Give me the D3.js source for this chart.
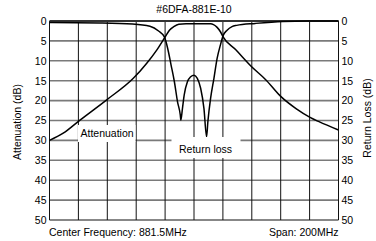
<!DOCTYPE html>
<html><head><meta charset="utf-8">
<script src="https://cdn.jsdelivr.net/npm/d3@7"></script>
<style>
html,body{margin:0;padding:0;background:#fff;}
svg{display:block;font-family:"Liberation Sans",Arial,Helvetica,sans-serif;}
</style></head><body>
<svg id="c" width="376" height="241"></svg>
<script>
const title = "#6DFA-881E-10";
const yTicks = [0,5,10,15,20,25,30,35,40,45,50];
const xDivs = [781.5,801.5,821.5,841.5,861.5,881.5,901.5,921.5,941.5,961.5,981.5];
const leftLabel = "Attenuation (dB)";
const rightLabel = "Return Loss (dB)";
const footLeft = "Center Frequency: 881.5MHz";
const footRight = "Span: 200MHz";

const attFreq = [781.5,791.0,802.6,821.1,839.5,848.8,855.7,861.5,864.5,867.5,871,876,886,893,895,897.5,899.8,901.5,910.6,921.4,931.3,941.7,952.1,961.8,968,981.5];
const attDb   = [30.0,28.2,24.9,19.8,14.4,10.6,7.3,4.0,2.3,1.4,0.8,0.7,0.7,0.7,0.9,1.6,2.7,3.9,7.3,11.5,14.8,19.0,22.0,24.2,25.3,27.4];

const rlFreq = [781.5,800,816,839,851,857,861,863.3,865.6,867.9,870.1,872,872.4,873.5,874.7,877,879.2,881.5,883.8,886.1,888.4,890.2,891.1,893,895.3,897.5,899.8,901.6,904.4,907.8,911,924,943,960,981.5];
const rlDb   = [0.4,0.45,0.5,0.75,1.3,2.5,4.0,6.9,11.0,15.2,20.3,23.6,24.9,22.0,18.6,15.2,14.0,13.6,14.4,16.9,22.0,29.1,25.3,19.4,14.4,9.4,6.0,3.7,2.3,1.4,1.1,0.6,0.1,0.0,0.0];

const svg = d3.select("#c");
const X0 = 49.5, X1 = 338.5, Y0 = 21, Y1 = 220;
const x = d3.scaleLinear().domain([781.5,981.5]).range([X0,X1]);
const y = d3.scaleLinear().domain([0,50]).range([Y0,Y1]);
const FS = 10.5;

// horizontal grid
svg.append("g").selectAll("line").data(yTicks.filter(d=>d>0&&d<50)).join("line")
  .attr("x1",X0).attr("x2",X1).attr("y1",d=>y(d)).attr("y2",d=>y(d))
  .attr("stroke","#7a7a7a").attr("stroke-width",1.6);
// vertical grid
svg.append("g").selectAll("line").data(xDivs).join("line")
  .attr("x1",d=>x(d)).attr("x2",d=>x(d)).attr("y1",Y0).attr("y2",Y1)
  .attr("stroke","#111").attr("stroke-width",1);
// frame
svg.append("line").attr("x1",X0).attr("x2",X1).attr("y1",Y0).attr("y2",Y0).attr("stroke","#333").attr("stroke-width",2);
svg.append("line").attr("x1",X0).attr("x2",X1).attr("y1",Y1).attr("y2",Y1).attr("stroke","#111").attr("stroke-width",1.2);

// axes labels via d3 axes (no lines)
const yl = svg.append("g").attr("transform",`translate(${X0-3},0)`)
  .call(d3.axisLeft(y).tickValues(yTicks).tickSize(0).tickPadding(0));
yl.select(".domain").remove();
yl.selectAll("text").attr("font-size",FS).attr("font-family","Liberation Sans, Arial").attr("fill","#000");
const yr = svg.append("g").attr("transform",`translate(${X1+3},0)`)
  .call(d3.axisRight(y).tickValues(yTicks).tickSize(0).tickPadding(0));
yr.select(".domain").remove();
yr.selectAll("text").attr("font-size",FS).attr("font-family","Liberation Sans, Arial").attr("fill","#000");

// curves
const line = d3.line().x(d=>x(d[0])).y(d=>y(d[1])).curve(d3.curveMonotoneX);
svg.append("path").attr("d",line(d3.zip(attFreq,attDb))).attr("fill","none").attr("stroke","#000").attr("stroke-width",1.5);
svg.append("path").attr("d",line(d3.zip(rlFreq,rlDb))).attr("fill","none").attr("stroke","#000").attr("stroke-width",1.5);

// label boxes
function boxLabel(txt, bx, by, bw, bh, tx, ty){
  svg.append("rect").attr("x",bx).attr("y",by).attr("width",bw).attr("height",bh).attr("fill","#fff");
  svg.append("text").attr("x",tx).attr("y",ty).attr("font-size",FS).text(txt);
}
boxLabel("Attenuation", 78, 125, 57.5, 17, 80.5, 136.5);
boxLabel("Return loss", 171.5, 137, 69, 21, 179, 153);

// texts
svg.append("text").attr("x",(X0+X1)/2).attr("y",13).attr("text-anchor","middle").attr("font-size",FS).text(title);
svg.append("text").attr("x",49).attr("y",236).attr("font-size",FS).text(footLeft);
svg.append("text").attr("x",338.5).attr("y",236).attr("text-anchor","end").attr("font-size",FS).text(footRight);
svg.append("text").attr("transform","translate(20.5,122) rotate(-90)").attr("text-anchor","middle").attr("font-size",FS).text(leftLabel);
svg.append("text").attr("transform","translate(370.5,118) rotate(-90)").attr("text-anchor","middle").attr("font-size",FS).text(rightLabel);
</script>
</body></html>
